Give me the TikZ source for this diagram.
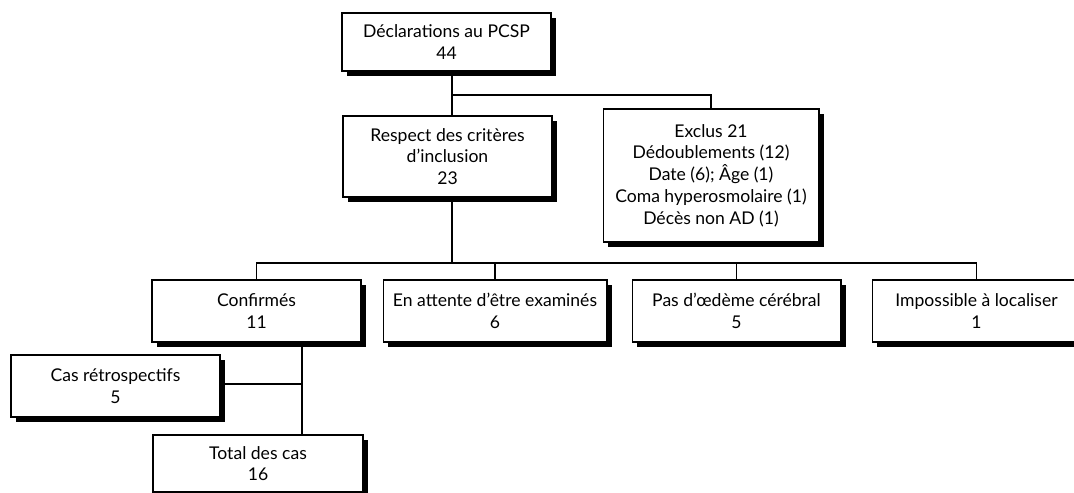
\documentclass[tikz,border=0pt]{standalone}
\usepackage{fontspec}
\setmainfont{Lato}
\usepackage{tikz}
\tikzstyle{connector} = [semithick]
\tikzstyle{blackshadow} = [drop shadow={shadow xshift=0.1cm, shadow yshift=-0.1cm, fill=black, opacity=1}]
\usetikzlibrary{shadows}
\usetikzlibrary{positioning}

\begin{document}
\begin{tikzpicture}[x=0.02cm, y=-0.02cm,
                      semithick,
                      main node/.style={rectangle,draw,fill=white,blackshadow,align=center,inner sep=2pt,
                                        font=\fontsize{10}{12.4}\selectfont,minimum width=4.18cm,minimum height=1.24cm}]
        \useasboundingbox (0,0) rectangle (1074,493);

        \node[main node, minimum height=1.16cm] (1) at (446.5,42) {Déclarations au PCSP\\44};
        \node[main node, minimum height=1.62cm] (2) at (447.5,156.5) {Respect des critères\\d’inclusion\\23};
        \node[main node, minimum width=4.32cm, minimum height=2.66cm] (3) at (711,175.5)
             {Exclus 21\\Dédoublements (12)\\Date (6); Âge (1)\\Coma hyperosmolaire (1)\\Décès non AD (1)};

        \node[main node] (4) at (256.5,311) {Confirmés\\11};
        \node[main node, minimum width=4.48cm] (5) at (495,311) {En attente d’être examinés\\6};
        \node[main node] (6) at (736.5,311) {Pas d’œdème cérébral\\5};
        \node[main node] (7) at (976.5,311) {Impossible à localiser\\1};

        \node[main node] (8) at (115.5,386) {Cas rétrospectifs\\5};
        \node[main node, minimum width=4.2cm, minimum height=1.14cm] (9) at (258,463.5) {Total des cas\\16};

        \coordinate (j1) at (452,95);
        \coordinate (j2) at (452,263);
        \coordinate (j3) at (302,384);

        \path[connector]
        (1.south -| j1) edge (2.north -| j1)
        (2.south -| j2) edge (j2)
        (4.south -| j3) edge (9.north -| j3)
        (8.east |- j3) edge (j3)
        ;

        \draw[connector] (j1) -| (3.north);
        \draw[connector] (4.north) |- (j2) -| (7.north);
        \draw[connector] (j2) -| (5.north);
        \draw[connector] (j2) -| (6.north);
    \end{tikzpicture}
\end{document}
